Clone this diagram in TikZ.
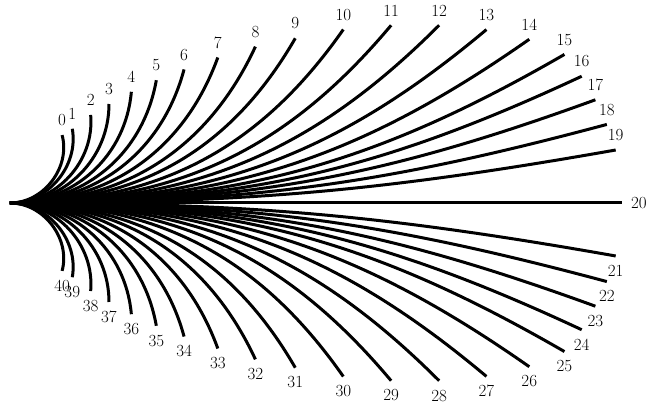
\documentclass[tikz,border=0pt]{standalone}
\usepackage{fontspec}
\usepackage{tikz}
\usetikzlibrary{positioning}
\tikzset{
  fanline/.style={line width=3pt},
  tiplabel/.style={font=\fontsize{17}{20}\selectfont, inner sep=0.3333em},
}
\begin{document}
\begin{tikzpicture}[x=1pt, y=1pt]
  \useasboundingbox (-10,-206) rectangle (639,203);
  \coordinate (O) at (0,0);
  % upper fan
  \foreach \i/\a/\r [evaluate=\a as \tin using 180+2*\a] in {
      0/52.5/85.6, 1/50/96.9, 2/47.5/119.4, 3/45/140, 4/42.5/164.6,
      5/40/191, 6/37.5/219.4, 7/35/253.7, 8/32.5/291, 9/30/329.4,
      10/27.5/375.8, 11/25/420.5, 12/22.5/464.5, 13/20/507, 14/17.5/544.5,
      15/15/574, 16/12.5/585.6, 17/10/594.4, 18/7.5/602, 19/5/608} {
    \coordinate (e\i) at (\a:\r);
    \node[tiplabel, above=5.5pt of e\i] (l\i) {\i};
    \draw[fanline] (O) to[out=0, in=\tin] (e\i);
  }
  % middle
  \coordinate (e20) at (0:612);
  \node[tiplabel, right=5.5pt of e20] (l20) {20};
  \draw[fanline] (O) -- (e20);
  % lower fan
  \foreach \i/\a/\r [evaluate=\a as \tin using 180-2*\a] in {
      21/5/608, 22/7.5/602, 23/10/594.4, 24/12.5/585.6, 25/15/574,
      26/17.5/544.5, 27/20/507, 28/22.5/464.5, 29/25/420.5, 30/27.5/375.8,
      31/30/329.4, 32/32.5/291, 33/35/253.7, 34/37.5/219.4, 35/40/191,
      36/42.5/164.6, 37/45/140, 38/47.5/119.4, 39/50/96.9, 40/52.5/85.6} {
    \coordinate (e\i) at (-\a:\r);
    \node[tiplabel, below=5.5pt of e\i] (l\i) {\i};
    \draw[fanline] (O) to[out=0, in=\tin] (e\i);
  }
\end{tikzpicture}
\end{document}
